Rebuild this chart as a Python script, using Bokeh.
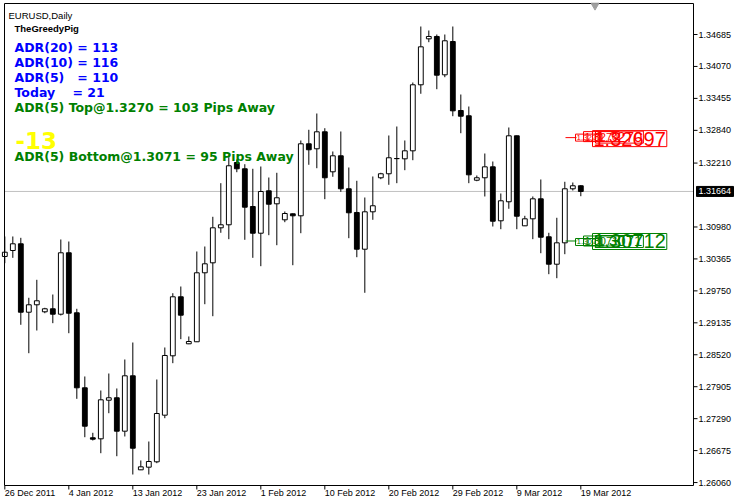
import numpy as np
from bokeh.plotting import figure
from bokeh.models import ColumnDataSource, Range1d
from bokeh.embed import file_html
from bokeh.resources import INLINE
from bokeh.core.properties import value

# ---------------- data ----------------
SYMBOL = "EURUSD,Daily"
INDICATOR = "TheGreedyPig"

OPEN = [1.30412, 1.30527, 1.30656, 1.29339, 1.29482, 1.29347, 1.29405, 1.29301, 1.30483, 1.29328,
        1.27884, 1.26922, 1.26902, 1.27645, 1.27692, 1.27049, 1.28115, 1.26305, 1.26356, 1.26459,
        1.27357, 1.28500, 1.29636, 1.28731, 1.28770, 1.30098, 1.30290, 1.30964, 1.31022, 1.32221,
        1.32100, 1.31374, 1.30860, 1.31676, 1.31426, 1.31118, 1.31233, 1.31195, 1.32581, 1.32485,
        1.32812, 1.32042, 1.32350, 1.31715, 1.31259, 1.30552, 1.31272, 1.31927, 1.32004, 1.32298,
        1.32292, 1.32446, 1.33717, 1.34602, 1.34647, 1.33909, 1.34550, 1.33222, 1.33120, 1.31880,
        1.31927, 1.32138, 1.31099, 1.31465, 1.32735, 1.31002, 1.31137, 1.31522, 1.30791, 1.30263,
        1.30675, 1.31715, 1.31773]
HIGH = [1.30797, 1.30797, 1.30771, 1.29617, 1.29963, 1.29424, 1.29680, 1.30739, 1.30700, 1.29405,
        1.28102, 1.27018, 1.27832, 1.28159, 1.27871, 1.28429, 1.28756, 1.26485, 1.26850, 1.28044,
        1.28660, 1.29705, 1.29834, 1.28872, 1.30508, 1.30604, 1.31176, 1.31823, 1.32323, 1.32279,
        1.32188, 1.32100, 1.32144, 1.31932, 1.32023, 1.31278, 1.31240, 1.32645, 1.32851, 1.33164,
        1.32881, 1.32433, 1.32818, 1.32125, 1.31869, 1.31547, 1.31952, 1.32023, 1.32741, 1.32914,
        1.32645, 1.33761, 1.34839, 1.34762, 1.34685, 1.34685, 1.34839, 1.33530, 1.33299, 1.31971,
        1.32394, 1.32240, 1.31624, 1.32895, 1.32740, 1.31195, 1.31567, 1.31894, 1.30868, 1.31157,
        1.31850, 1.31836, 1.31784]
LOW = [1.30283, 1.30386, 1.29097, 1.28550, 1.28987, 1.29320, 1.29128, 1.29276, 1.28935, 1.27672,
       1.26933, 1.26870, 1.26625, 1.27395, 1.26567, 1.26947, 1.26215, 1.26300, 1.26215, 1.26433,
       1.27299, 1.28358, 1.28820, 1.28725, 1.28765, 1.29493, 1.29262, 1.30868, 1.30745, 1.32034,
       1.30733, 1.30386, 1.30225, 1.30822, 1.30629, 1.31072, 1.30244, 1.30860, 1.32177, 1.32111,
       1.31515, 1.31946, 1.31657, 1.30764, 1.30398, 1.29713, 1.31118, 1.31900, 1.31792, 1.31823,
       1.32073, 1.32265, 1.33544, 1.34537, 1.33632, 1.33863, 1.33112, 1.32785, 1.31823, 1.31861,
       1.31567, 1.30989, 1.30937, 1.31330, 1.30937, 1.30998, 1.30745, 1.30475, 1.30071, 1.29994,
       1.30456, 1.31682, 1.31572]
CLOSE = [1.30494, 1.30656, 1.29339, 1.29482, 1.29559, 1.29405, 1.29301, 1.30483, 1.29320, 1.27884,
         1.27145, 1.26895, 1.27653, 1.27692, 1.27049, 1.28115, 1.26721, 1.26363, 1.26465, 1.27389,
         1.28506, 1.29636, 1.29282, 1.28775, 1.30098, 1.30271, 1.30964, 1.31022, 1.32158, 1.32100,
         1.31361, 1.30860, 1.31663, 1.31418, 1.31542, 1.31239, 1.31195, 1.32581, 1.32466, 1.32812,
         1.31927, 1.32350, 1.31715, 1.31253, 1.30552, 1.31272, 1.31388, 1.32004, 1.32312, 1.32295,
         1.32446, 1.33717, 1.34448, 1.34647, 1.33902, 1.34564, 1.33216, 1.33112, 1.31984, 1.31927,
         1.32138, 1.31091, 1.31484, 1.32735, 1.31187, 1.31137, 1.31522, 1.30783, 1.30263, 1.30675,
         1.31715, 1.31773, 1.31664]

DATE_LABELS = ["26 Dec 2011", "4 Jan 2012", "13 Jan 2012", "23 Jan 2012", "1 Feb 2012",
               "10 Feb 2012", "20 Feb 2012", "29 Feb 2012", "9 Mar 2012", "19 Mar 2012"]
DATE_BARS = [0, 8, 16, 24, 32, 40, 48, 56, 64, 72]

PRICE_TICKS = [1.34685, 1.34070, 1.33455, 1.32840, 1.32210, 1.30980, 1.30365, 1.29750,
               1.29135, 1.28520, 1.27905, 1.27290, 1.26675, 1.26060]
CURRENT_PRICE = 1.31664

ADR_TOP = 1.3270
ADR_BOTTOM = 1.3071
TOP_TAGS = ["1.3270", "1.3270", "1.3270", "1.32697"]
BOTTOM_TAGS = ["1.3071", "1.3071", "1.3071", "1.30712"]

BLUE_LINES = ["ADR(20) = 113", "ADR(10) = 116", "ADR(5)\u00a0\u00a0 = 110", "Today\u00a0\u00a0\u00a0 = 21"]
TOP_LINE = "ADR(5) Top@1.3270 = 103 Pips Away"
DIFF_TEXT = "-13"
BOTTOM_LINE = "ADR(5) Bottom@1.3071 = 95 Pips Away"

# visible chart window (bars, price) and drawing scale
CHART_X = (-0.04, 86.085)
CHART_Y = (1.260033, 1.352818)
PX_X = 1 / 8.0          # bars per pixel
PX_Y = 0.0001925        # price per pixel
W, H = 734, 503


def bx(xpx):
    """page pixel x -> bar units"""
    return CHART_X[0] + (xpx - 4) * PX_X


def py(ypx):
    """page pixel y -> price units"""
    return CHART_Y[1] - (ypx - 3) * PX_Y


XR = (bx(0), bx(W))
YR = (py(H), py(0))

p = figure(width=W, height=H, output_backend="svg", toolbar_location=None,
           x_range=Range1d(*XR), y_range=Range1d(*YR),
           x_axis_location=None, y_axis_location=None,
           min_border_left=0, min_border_top=0, min_border_right=0, min_border_bottom=0,
           background_fill_color="white", border_fill_color="white",
           outline_line_color=None)
for g in p.grid:
    g.visible = False

LAB_FONT = value("Liberation Sans")
BOLD_FONT = value("DejaVu Sans")

# current price line
p.segment(x0=[CHART_X[0]], x1=[CHART_X[1]], y0=[CURRENT_PRICE], y1=[CURRENT_PRICE],
          line_color="#C0C0C0", line_width=1)

# candles
o = np.array(OPEN)
c = np.array(CLOSE)
idx = np.arange(len(OPEN))
src = ColumnDataSource(dict(
    x=idx, high=HIGH, low=LOW,
    top=np.maximum(o, c), bottom=np.minimum(o, c),
    fill=["white" if cc > oo else "black" for oo, cc in zip(OPEN, CLOSE)],
))
p.segment(x0="x", y0="low", x1="x", y1="high", source=src, line_color="black", line_width=1)
p.vbar(x="x", width=0.6, top="top", bottom="bottom", source=src,
       fill_color="fill", line_color="black", line_width=1)

# chart frame
p.quad(left=[CHART_X[0]], right=[CHART_X[1]], bottom=[CHART_Y[0]], top=[CHART_Y[1]],
       fill_color=None, line_color="black", line_width=1)

# shift marker at top
p.scatter(x=[bx(594.5)], y=[py(5)], marker="inverted_triangle", size=8,
          fill_color="#A0A0A0", line_color="#A0A0A0")

# right price scale
tick_len = 4 * PX_X
p.segment(x0=[CHART_X[1]] * len(PRICE_TICKS), x1=[CHART_X[1] + tick_len] * len(PRICE_TICKS),
          y0=PRICE_TICKS, y1=PRICE_TICKS, line_color="black", line_width=1)
p.text(x=[CHART_X[1] + 5 * PX_X] * len(PRICE_TICKS), y=PRICE_TICKS,
       text=[f"{t:.5f}" for t in PRICE_TICKS], text_font=LAB_FONT, text_font_size="9px",
       text_color="black", text_align="left", text_baseline="middle")

# current price tag
p.quad(left=[CHART_X[1] + 3 * PX_X], right=[CHART_X[1] + 40 * PX_X],
       bottom=[CURRENT_PRICE - 5 * PX_Y], top=[CURRENT_PRICE + 5 * PX_Y],
       fill_color="black", line_color="black")
p.text(x=[CHART_X[1] + 5 * PX_X], y=[CURRENT_PRICE], text=[f"{CURRENT_PRICE:.5f}"],
       text_font=LAB_FONT, text_font_size="9px", text_color="white",
       text_align="left", text_baseline="middle")

# date scale
tick_len_y = 4 * PX_Y
p.segment(x0=DATE_BARS, x1=DATE_BARS, y0=[CHART_Y[0]] * len(DATE_BARS),
          y1=[CHART_Y[0] - tick_len_y] * len(DATE_BARS), line_color="black", line_width=1)
p.text(x=DATE_BARS, y=[CHART_Y[0] - 2 * PX_Y] * len(DATE_BARS),
       text=DATE_LABELS, text_font=LAB_FONT, text_font_size="9px", text_color="black",
       text_align="left", text_baseline="top")

# ADR lines and overlapping tags
tag_specs = [(575, "8px"), (583, "11px"), (595, "15px"), (592, "20px")]
for lvl, tags, col, offs in [(ADR_TOP, TOP_TAGS, "red", [0, 1, 0.5, -1]),
                             (ADR_BOTTOM, BOTTOM_TAGS, "green", [-1, 0, -0.5, -0.5])]:
    p.segment(x0=[bx(565)], y0=[lvl], x1=[bx(576)], y1=[lvl], line_color=col, line_width=1)
    for tag, (xl, fs), off in zip(tags, tag_specs, offs):
        p.text(x=[bx(xl)], y=[lvl + off * PX_Y], text=[tag], text_font=LAB_FONT,
               text_font_size=fs, text_color=col, text_align="left", text_baseline="middle",
               border_line_color=col, border_line_width=1, padding=1)

# info texts
p.text(x=[bx(8)], y=[py(15)], text=[SYMBOL], text_font=LAB_FONT, text_font_size="9.5px",
       text_color="black", text_baseline="alphabetic")
p.text(x=[bx(14)], y=[py(28)], text=[INDICATOR], text_font=LAB_FONT, text_font_size="9.5px",
       text_font_style="bold", text_color="black", text_baseline="alphabetic")
p.text(x=[bx(14)] * len(BLUE_LINES), y=[py(47 + 15 * i) for i in range(len(BLUE_LINES))],
       text=BLUE_LINES, text_font=BOLD_FONT, text_font_size="12.5px", text_font_style="bold",
       text_color="#0000FF", text_baseline="alphabetic")
p.text(x=[bx(14)], y=[py(106.5)], text=[TOP_LINE], text_font=BOLD_FONT, text_font_size="12.5px",
       text_font_style="bold", text_color="#008000", text_baseline="alphabetic")
p.text(x=[bx(15)], y=[py(140)], text=[DIFF_TEXT], text_font=BOLD_FONT, text_font_size="23px",
       text_font_style="bold", text_color="#FFFF00", text_baseline="alphabetic")
p.text(x=[bx(14)], y=[py(156)], text=[BOTTOM_LINE], text_font=BOLD_FONT, text_font_size="12.5px",
       text_font_style="bold", text_color="#008000", text_baseline="alphabetic")

open("out.html", "w").write(file_html(p, INLINE))
